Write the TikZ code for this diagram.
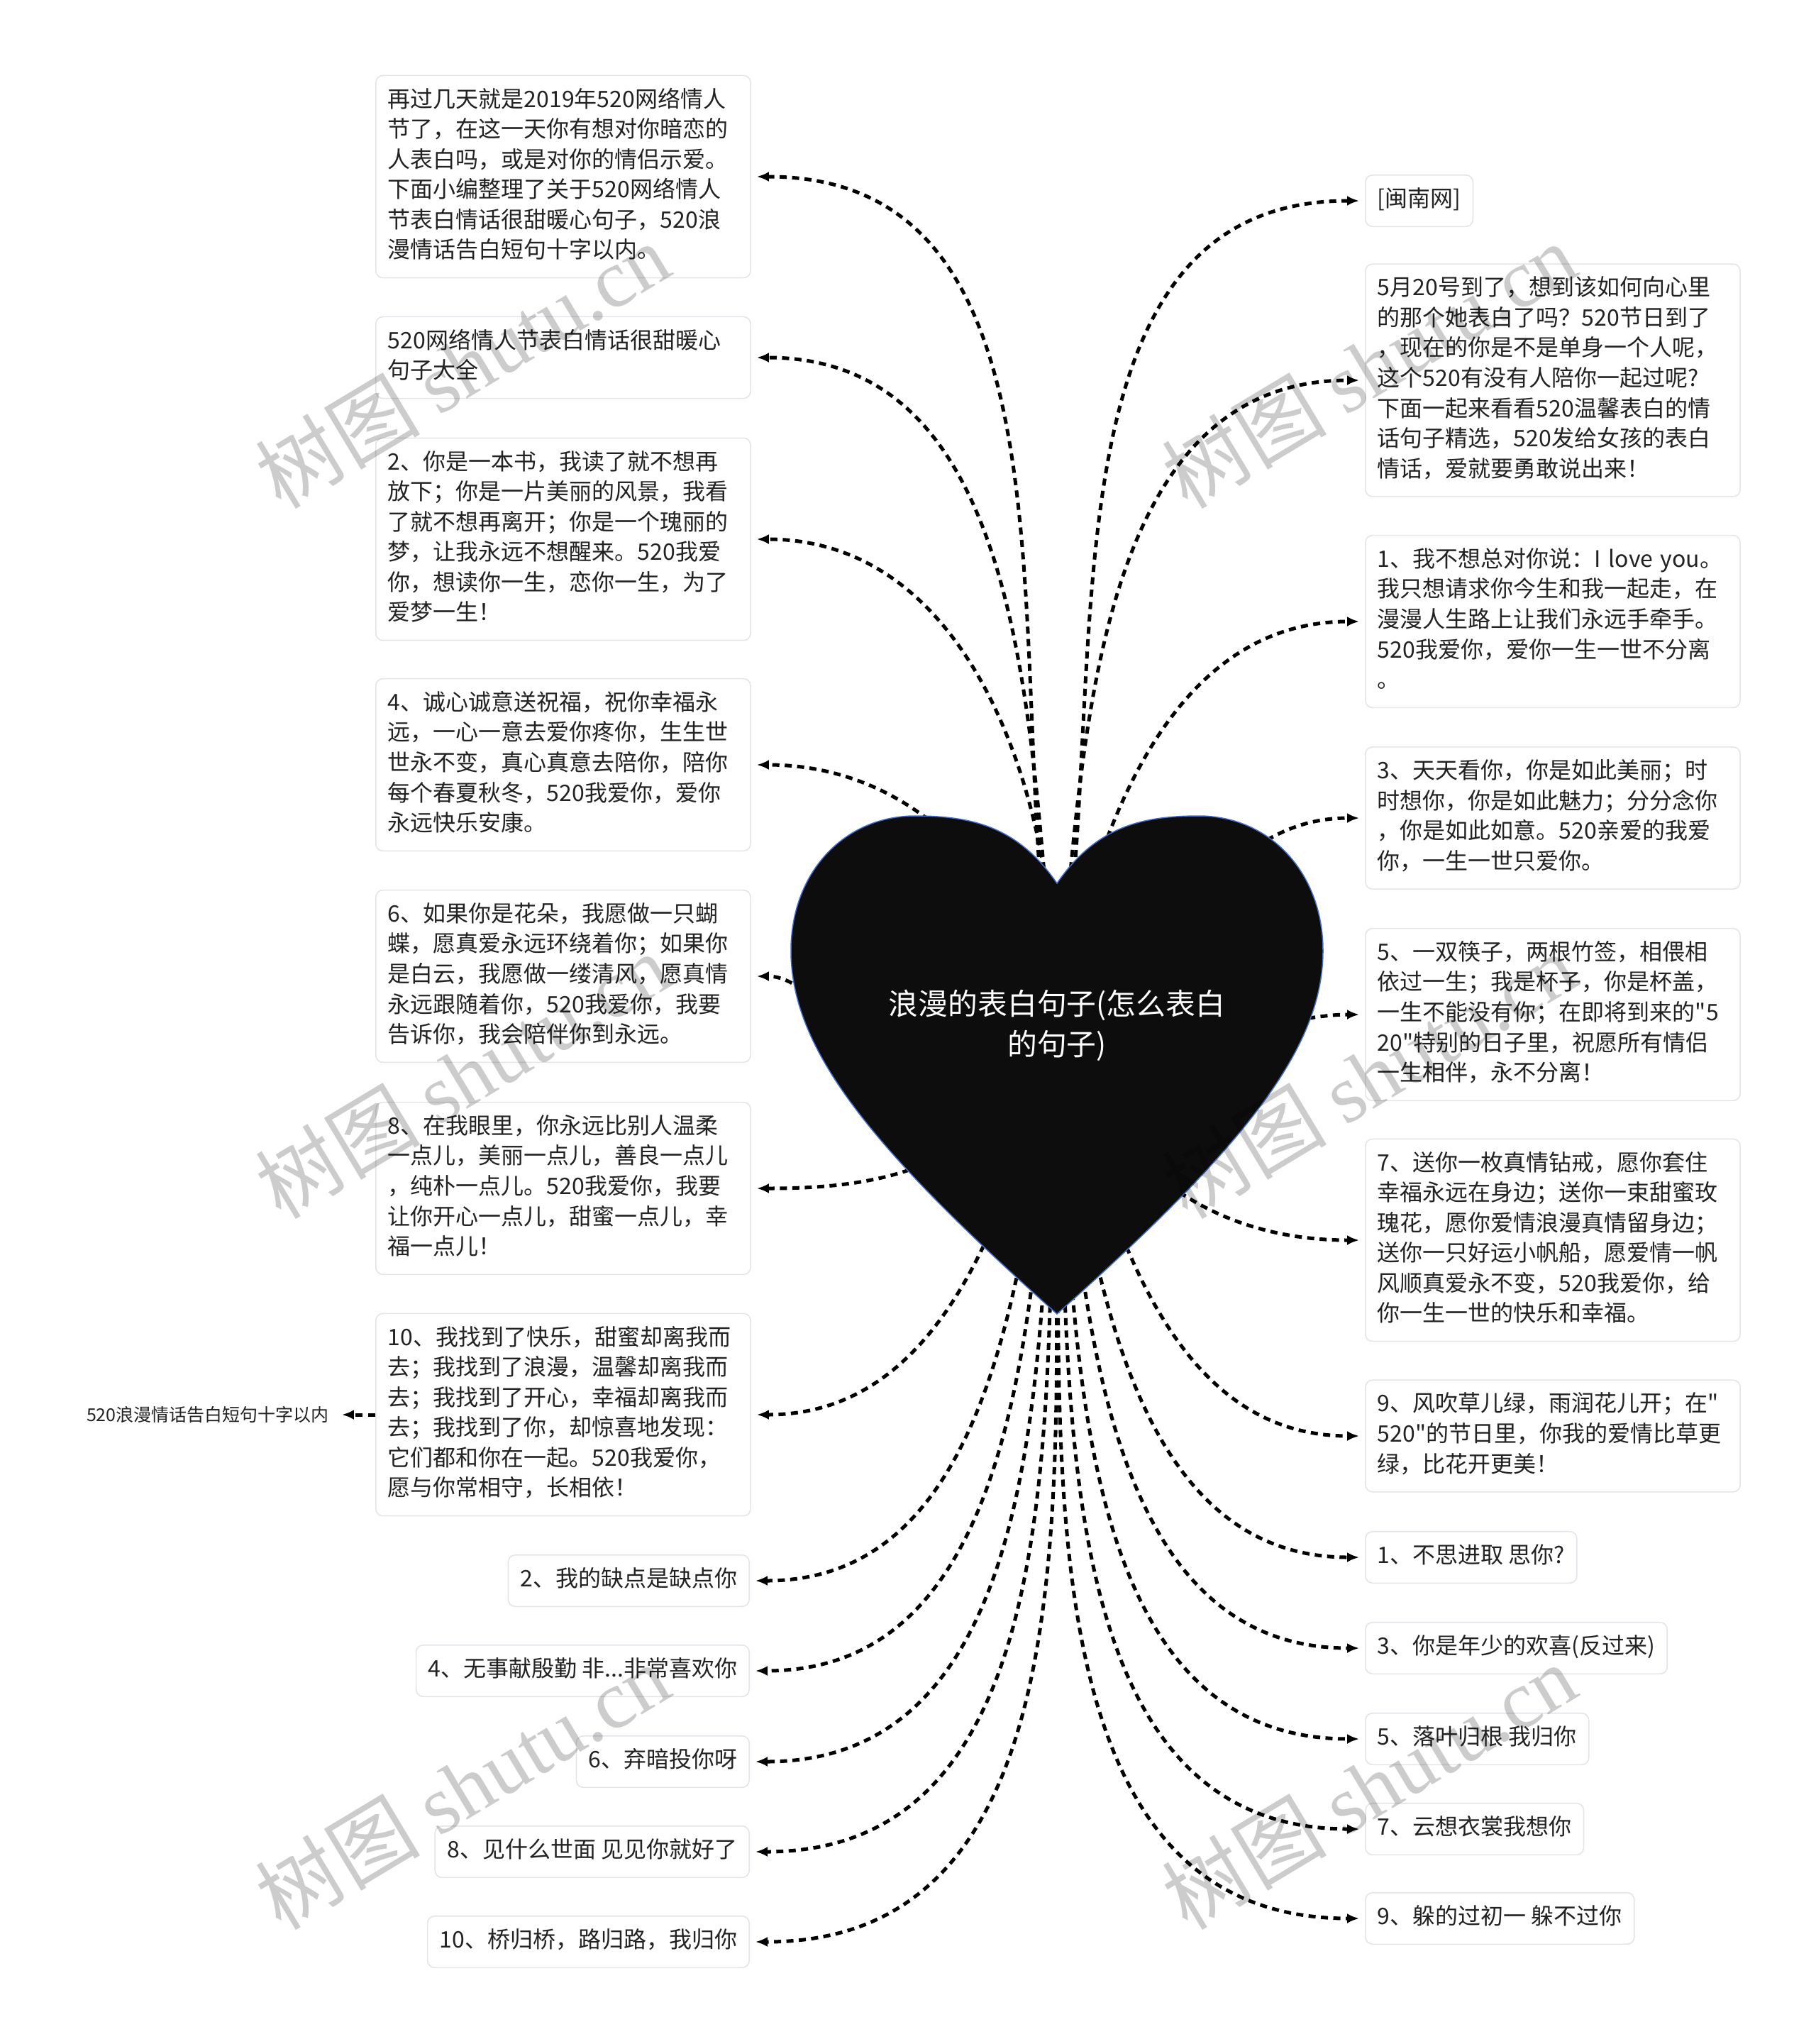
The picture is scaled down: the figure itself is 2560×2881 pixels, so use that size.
\documentclass[tikz,border=0pt]{standalone}
\usepackage{fontspec}
\setmainfont{Noto Sans CJK SC}[Ligatures=TeXOff]
\newfontfamily\markfont{Liberation Serif}
\usepackage{tikz}
\usetikzlibrary{arrows.meta, positioning, backgrounds}

\definecolor{ink}{RGB}{34,34,34}
\definecolor{boxline}{RGB}{226,229,234}
\definecolor{heartfill}{RGB}{13,13,13}
\definecolor{heartline}{RGB}{70,110,200}

\begin{document}
\begin{tikzpicture}[x=0.01cm, y=-0.01cm, node distance=1cm,
    boxbase/.style={draw=boxline, line width=0.45pt, fill=white, rounded corners=0.1cm, text=ink,
      inner xsep=0.17cm, inner ysep=0.15cm, font=\fontsize{9.1pt}{12.1pt}\selectfont,
      execute at begin node=\strut, execute at end node=\strut},
    para/.style={boxbase, align=left, text width=4.94cm},
    chip/.style={boxbase},
    link/.style={draw=black, line width=0.05cm, dash pattern=on 0.1cm off 0.075cm,
      -{Latex[length=0.17cm,width=0.14cm]}, shorten >=0.08cm},
    wmark/.style={rotate=31, text=black, text opacity=0.2, font=\fontsize{33pt}{33pt}\selectfont}]
    \useasboundingbox (0,0) rectangle (2560,2881);

    \filldraw[fill=heartfill, draw=heartline, line width=0.015cm]
      (1490,1245) .. controls (1545,1165) and (1610,1150) .. (1690,1150)
      .. controls (1790,1150) and (1865,1230) .. (1865,1340)
      .. controls (1865,1480) and (1750,1620) .. (1490,1852)
      .. controls (1230,1620) and (1115,1480) .. (1115,1340)
      .. controls (1115,1230) and (1190,1150) .. (1290,1150)
      .. controls (1370,1150) and (1435,1165) .. (1490,1245) -- cycle;
    \node[text=white, align=center, font=\fontsize{11.9pt}{16.2pt}\selectfont] (root) at (1490,1445) {浪漫的表白句子(怎么表白\\的句子)};

    \node[para, anchor=west] (intro) at (529,249) {再过几天就是2019年520网络情人\\节了，在这一天你有想对你暗恋的\\人表白吗，或是对你的情侣示爱。\\下面小编整理了关于520网络情人\\节表白情话很甜暖心句子，520浪\\漫情话告白短句十字以内。};
    \node[para, anchor=west] (daquan) at (529,504) {520网络情人节表白情话很甜暖心\\句子大全};
    \node[para, anchor=west] (book) at (529,760) {2、你是一本书，我读了就不想再\\放下；你是一片美丽的风景，我看\\了就不想再离开；你是一个瑰丽的\\梦，让我永远不想醒来。520我爱\\你，想读你一生，恋你一生，为了\\爱梦一生！};
    \node[para, anchor=west] (wish) at (529,1078) {4、诚心诚意送祝福，祝你幸福永\\远，一心一意去爱你疼你，生生世\\世永不变，真心真意去陪你，陪你\\每个春夏秋冬，520我爱你，爱你\\永远快乐安康。};
    \node[para, anchor=west] (flower) at (529,1376) {6、如果你是花朵，我愿做一只蝴\\蝶，愿真爱永远环绕着你；如果你\\是白云，我愿做一缕清风，愿真情\\永远跟随着你，520我爱你，我要\\告诉你，我会陪伴你到永远。};
    \node[para, anchor=west] (eyes) at (529,1675) {8、在我眼里，你永远比别人温柔\\一点儿，美丽一点儿，善良一点儿\\，纯朴一点儿。520我爱你，我要\\让你开心一点儿，甜蜜一点儿，幸\\福一点儿！};
    \node[para, anchor=west] (found) at (529,1994) {10、我找到了快乐，甜蜜却离我而\\去；我找到了浪漫，温馨却离我而\\去；我找到了开心，幸福却离我而\\去；我找到了你，却惊喜地发现：\\它们都和你在一起。520我爱你，\\愿与你常相守，长相依！};
    \node[text=ink, inner sep=0.1cm, font=\fontsize{7.1pt}{9pt}\selectfont, left=0.55cm of found] (note) {520浪漫情话告白短句十字以内};

    \node[chip, anchor=east] (flaw) at (1057,2228) {2、我的缺点是缺点你};
    \node[chip, anchor=east] (court) at (1057,2355) {4、无事献殷勤 非...非常喜欢你};
    \node[chip, anchor=east] (dark) at (1057,2483) {6、弃暗投你呀};
    \node[chip, anchor=east] (world) at (1057,2610) {8、见什么世面 见见你就好了};
    \node[chip, anchor=east] (bridge) at (1057,2737) {10、桥归桥，路归路，我归你};

    \node[chip, anchor=west] (src) at (1924,283) {[闽南网]};
    \node[para, anchor=west] (may) at (1924,536) {5月20号到了，想到该如何向心里\\的那个她表白了吗？520节日到了\\，现在的你是不是单身一个人呢，\\这个520有没有人陪你一起过呢?\\下面一起来看看520温馨表白的情\\话句子精选，520发给女孩的表白\\情话，爱就要勇敢说出来！};
    \node[para, anchor=west] (love) at (1924,876) {1、我不想总对你说：I love you。\\我只想请求你今生和我一起走，在\\漫漫人生路上让我们永远手牵手。\\520我爱你，爱你一生一世不分离\\。};
    \node[para, anchor=west] (daily) at (1924,1153) {3、天天看你，你是如此美丽；时\\时想你，你是如此魅力；分分念你\\，你是如此如意。520亲爱的我爱\\你，一生一世只爱你。};
    \node[para, anchor=west] (chop) at (1924,1430) {5、一双筷子，两根竹签，相偎相\\依过一生；我是杯子，你是杯盖，\\一生不能没有你；在即将到来的"5\\20"特别的日子里，祝愿所有情侣\\一生相伴，永不分离！};
    \node[para, anchor=west] (ring) at (1924,1748) {7、送你一枚真情钻戒，愿你套住\\幸福永远在身边；送你一束甜蜜玫\\瑰花，愿你爱情浪漫真情留身边；\\送你一只好运小帆船，愿爱情一帆\\风顺真爱永不变，520我爱你，给\\你一生一世的快乐和幸福。};
    \node[para, anchor=west] (wind) at (1924,2024) {9、风吹草儿绿，雨润花儿开；在"\\520"的节日里，你我的爱情比草更\\绿，比花开更美！};

    \node[chip, anchor=west] (think) at (1924,2195) {1、不思进取 思你?};
    \node[chip, anchor=west] (young) at (1924,2323) {3、你是年少的欢喜(反过来)};
    \node[chip, anchor=west] (leaf) at (1924,2451) {5、落叶归根 我归你};
    \node[chip, anchor=west] (cloud) at (1924,2578) {7、云想衣裳我想你};
    \node[chip, anchor=west] (hide) at (1924,2704) {9、躲的过初一 躲不过你};

    \begin{scope}[on background layer]
    \draw[link] (root) to[out=98,in=0] (intro);
    \draw[link] (root) to[out=95,in=0] (daquan);
    \draw[link] (root) to[out=92,in=0] (book);
    \draw[link] (root) to[out=110,in=0] (wish);
    \draw[link] (root) to[out=180,in=0] (flower);
    \draw[link] (root) to[out=240,in=0] (eyes);
    \draw[link] (root) to[out=255,in=0] (found);
    \draw[link] (root) to[out=262,in=0] (flaw);
    \draw[link] (root) to[out=265,in=0] (court);
    \draw[link] (root) to[out=267,in=0] (dark);
    \draw[link] (root) to[out=268,in=0] (world);
    \draw[link] (root) to[out=269,in=0] (bridge);
    \draw[link] (found) -- (note);
    \draw[link] (root) to[out=82,in=180] (src);
    \draw[link] (root) to[out=85,in=180] (may);
    \draw[link] (root) to[out=78,in=180] (love);
    \draw[link] (root) to[out=40,in=180] (daily);
    \draw[link] (root) to[out=0,in=180] (chop);
    \draw[link] (root) to[out=295,in=180] (ring);
    \draw[link] (root) to[out=285,in=180] (wind);
    \draw[link] (root) to[out=278,in=180] (think);
    \draw[link] (root) to[out=275,in=180] (young);
    \draw[link] (root) to[out=273,in=180] (leaf);
    \draw[link] (root) to[out=272,in=180] (cloud);
    \draw[link] (root) to[out=271,in=180] (hide);
    \end{scope}

    \node[wmark] at (652,515) {树图 {\markfont shutu.cn}};
    \node[wmark] at (1930,515) {树图 {\markfont shutu.cn}};
    \node[wmark] at (652,1516) {树图 {\markfont shutu.cn}};
    \node[wmark] at (1930,1516) {树图 {\markfont shutu.cn}};
    \node[wmark] at (652,2518) {树图 {\markfont shutu.cn}};
    \node[wmark] at (1930,2518) {树图 {\markfont shutu.cn}};
\end{tikzpicture}
\end{document}
